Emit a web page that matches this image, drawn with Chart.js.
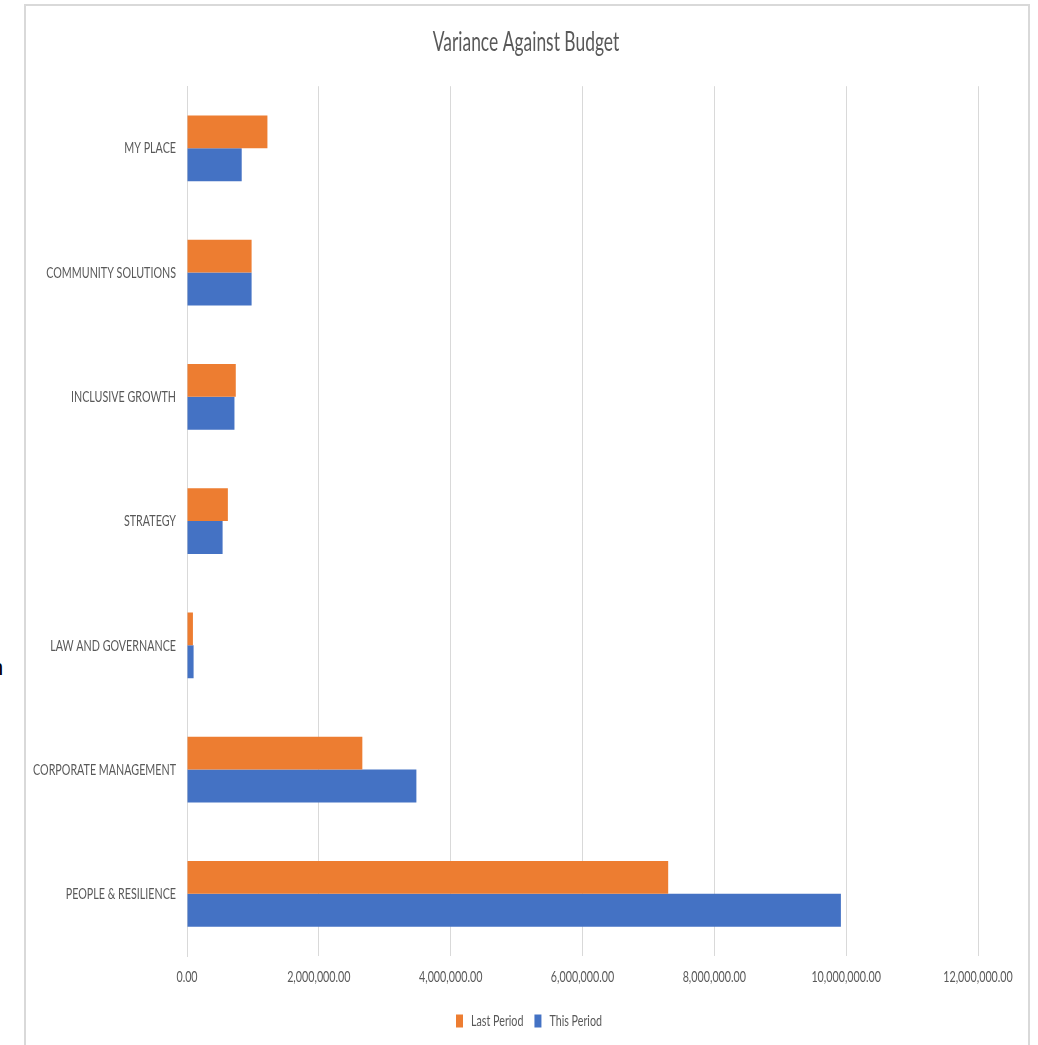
<!DOCTYPE html>
<html>
<head>
<meta charset="utf-8">
<script src="https://cdn.jsdelivr.net/npm/chart.js@4.4.1/dist/chart.umd.min.js"></script>
<style>
  html, body { margin: 0; padding: 0; background: #fff; overflow: hidden; }
  #frame { position: absolute; left: 24px; top: 4px; width: 1002px; height: 1100px; border: 2px solid #d9d9d9; box-sizing: content-box; }
  #wrap { position: absolute; left: 0; top: 0; width: 1038px; height: 1045px; }
  #stray { position: absolute; left: -9px; top: 655px; font: 22px "Liberation Sans", Arial, sans-serif; color: #000; }
</style>
</head>
<body>
<div id="frame"></div>
<div id="stray">n</div>
<div id="wrap"><canvas id="chart" width="1038" height="1045"></canvas></div>
<script>
// categories, top to bottom
const categories = ['MY PLACE', 'COMMUNITY SOLUTIONS', 'INCLUSIVE GROWTH', 'STRATEGY', 'LAW AND GOVERNANCE', 'CORPORATE MANAGEMENT', 'PEOPLE & RESILIENCE'];
const lastPeriod = [1220000, 980000, 740000, 620000, 90000, 2660000, 7300000];
const thisPeriod = [830000, 980000, 720000, 540000, 100000, 3480000, 9920000];
const xTicks = [0, 2000000, 4000000, 6000000, 8000000, 10000000, 12000000];

const font = 'Lato, "Open Sans", sans-serif';
const grey = '#595959';

const ctx = document.getElementById('chart').getContext('2d');

// the original text is very narrow: squeeze every label horizontally
const squeeze = 0.67;
const realMeasure = ctx.measureText.bind(ctx);
const realFill = ctx.fillText.bind(ctx);
ctx.measureText = t => {
    const m = realMeasure(t);
    return { width: m.width * squeeze, actualBoundingBoxAscent: m.actualBoundingBoxAscent, actualBoundingBoxDescent: m.actualBoundingBoxDescent };
};
ctx.fillText = (t, x, y, mw) => {
    let w = realMeasure(t).width * squeeze;
    if (mw && mw < w) w = mw;
    const align = ctx.textAlign;
    let x0 = x;
    if (align === 'center') x0 = x - w / 2;
    else if (align === 'right' || align === 'end') x0 = x - w;
    ctx.textAlign = 'left';
    realFill(t, x0, y, w);
    ctx.textAlign = align;
};

// title and legend are centred on the plot, not on the whole canvas
const shiftBlocks = {
    id: 'shiftBlocks',
    afterLayout(chart) {
        chart.titleBlock.left = 74;
        chart.legend.left = 80;
    }
};

new Chart(ctx, {
    type: 'bar',
    data: {
        labels: categories,
        datasets: [
            { label: 'Last Period', data: lastPeriod, backgroundColor: '#ED7D31' },
            { label: 'This Period', data: thisPeriod, backgroundColor: '#4472C4' }
        ]
    },
    options: {
        indexAxis: 'y',
        responsive: false,
        animation: false,
        layout: { padding: { left: 0, right: 60, top: 0, bottom: 6 } },
        datasets: { bar: { categoryPercentage: 0.53, barPercentage: 1 } },
        plugins: {
            title: {
                display: true,
                text: 'Variance Against Budget',
                color: grey,
                font: { family: font, size: 26, weight: 'normal' },
                padding: { top: 27, bottom: 28 }
            },
            legend: {
                position: 'bottom',
                labels: {
                    color: grey,
                    font: { family: font, size: 16, weight: 'normal' },
                    boxWidth: 7,
                    boxHeight: 13,
                    padding: 11
                }
            },
            tooltip: { enabled: false }
        },
        scales: {
            x: {
                min: 0,
                max: 12000000,
                afterBuildTicks: scale => { scale.ticks = xTicks.map(v => ({ value: v })); },
                afterFit: scale => { scale.height = 46; },
                grid: { color: '#d9d9d9', drawTicks: false },
                border: { display: false },
                ticks: {
                    color: grey,
                    font: { family: font, size: 16, weight: 'normal' },
                    padding: 11,
                    maxRotation: 0,
                    callback: v => Number(v).toLocaleString('en-US', { minimumFractionDigits: 2, maximumFractionDigits: 2 })
                }
            },
            y: {
                afterFit: scale => { scale.width = 187; },
                grid: { display: false, drawTicks: false },
                border: { display: true, color: '#d9d9d9', width: 1 },
                ticks: {
                    color: grey,
                    font: { family: font, size: 16, weight: 'normal' },
                    padding: 11
                }
            }
        }
    },
    plugins: [shiftBlocks]
});
</script>
</body>
</html>
